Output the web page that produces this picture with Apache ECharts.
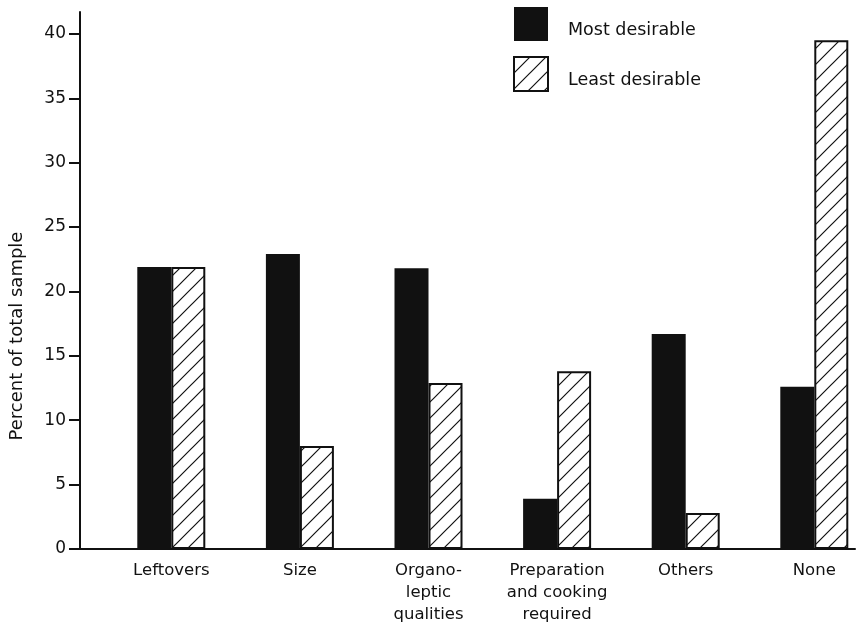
<!DOCTYPE html>
<html>
<head>
<meta charset="utf-8">
<script src="https://cdn.jsdelivr.net/npm/echarts@6/dist/echarts.min.js"></script>
<style>
  html, body { margin: 0; padding: 0; background: #fff; }
  #chart { width: 859px; height: 627px; }
</style>
</head>
<body>
<div id="chart"></div>
<script>
const categories = ['Leftovers', 'Size', 'Organo-\nleptic\nqualities', 'Preparation\nand cooking\nrequired', 'Others', 'None'];
const mostDesirable = [21.9, 22.9, 21.8, 3.9, 16.7, 12.6];
const leastDesirable = [21.9, 8.0, 12.9, 13.8, 2.8, 39.5];
const yTicks = [0, 5, 10, 15, 20, 25, 30, 35, 40];

const FONT = 'DejaVu Sans';
const INK = '#111';

// diagonal hatch pattern for the "least desirable" bars
function hatch() {
    let c = document.createElement('canvas');
    c.width = 16;
    c.height = 16;
    let ctx = c.getContext('2d');
    ctx.fillStyle = '#fff';
    ctx.fillRect(0, 0, 16, 16);
    ctx.strokeStyle = INK;
    ctx.lineWidth = 1.2;
    ctx.beginPath();
    ctx.moveTo(-1, 17); ctx.lineTo(17, -1);
    ctx.moveTo(-1, 1); ctx.lineTo(1, -1);
    ctx.moveTo(15, 17); ctx.lineTo(17, 15);
    ctx.stroke();
    return c;
}

const chart = echarts.init(document.getElementById('chart'));

chart.setOption({
    animation: false,
    textStyle: { fontFamily: FONT, color: INK },
    grid: [
        // category grid runs a little past the right edge, as in the original
        { left: 107, width: 771.6, top: 12, bottom: 78, outerBoundsMode: 'none', containLabel: false },
        { left: 80, right: 4, top: 12, bottom: 78, outerBoundsMode: 'none' }
    ],
    legend: {
        orient: 'vertical',
        left: 508,
        top: 2,
        itemWidth: 34,
        itemHeight: 34,
        itemGap: 15,
        icon: 'rect',
        // empty first line nudges the label a bit below the swatch centre
        formatter: name => '\n' + name,
        textStyle: { fontFamily: FONT, fontSize: 17.5, lineHeight: 12, color: INK, padding: [0, 0, 0, 15] },
        data: ['Most desirable', 'Least desirable']
    },
    xAxis: [
        {
            type: 'category',
            gridIndex: 0,
            data: categories,
            axisLine: { show: false },
            axisTick: { show: false },
            axisLabel: { margin: 11, fontSize: 16.5, lineHeight: 22, color: INK, fontFamily: FONT, interval: 0 }
        },
        {
            // plain baseline running from the y axis to the right edge
            type: 'value',
            gridIndex: 1,
            min: 0,
            max: 1,
            axisLine: { show: true, lineStyle: { color: INK, width: 2 } },
            axisTick: { show: false },
            axisLabel: { show: false },
            splitLine: { show: false }
        }
    ],
    yAxis: [
        {
            type: 'value',
            gridIndex: 0,
            min: 0,
            max: 41.7,
            offset: 27,
            axisLine: { show: true, lineStyle: { color: INK, width: 2 } },
            axisTick: { show: true, length: 11, customValues: yTicks, lineStyle: { color: INK, width: 2 } },
            axisLabel: { margin: 14, fontSize: 17, color: INK, fontFamily: FONT, customValues: yTicks },
            splitLine: { show: false }
        },
        { type: 'value', gridIndex: 1, show: false, min: 0, max: 1 }
    ],
    graphic: [
        {
            type: 'text',
            x: 17,
            y: 336,
            rotation: Math.PI / 2,
            style: {
                text: 'Percent of total sample',
                font: '18px "DejaVu Sans"',
                fill: INK,
                align: 'center',
                verticalAlign: 'middle'
            }
        }
    ],
    series: [
        {
            name: 'Most desirable',
            type: 'bar',
            data: mostDesirable,
            barWidth: 34,
            barGap: '0%',
            itemStyle: { color: INK }
        },
        {
            name: 'Least desirable',
            type: 'bar',
            data: leastDesirable,
            barWidth: 34,
            itemStyle: {
                color: { image: hatch(), repeat: 'repeat' },
                borderColor: INK,
                borderWidth: 2
            }
        }
    ]
});
</script>
</body>
</html>
